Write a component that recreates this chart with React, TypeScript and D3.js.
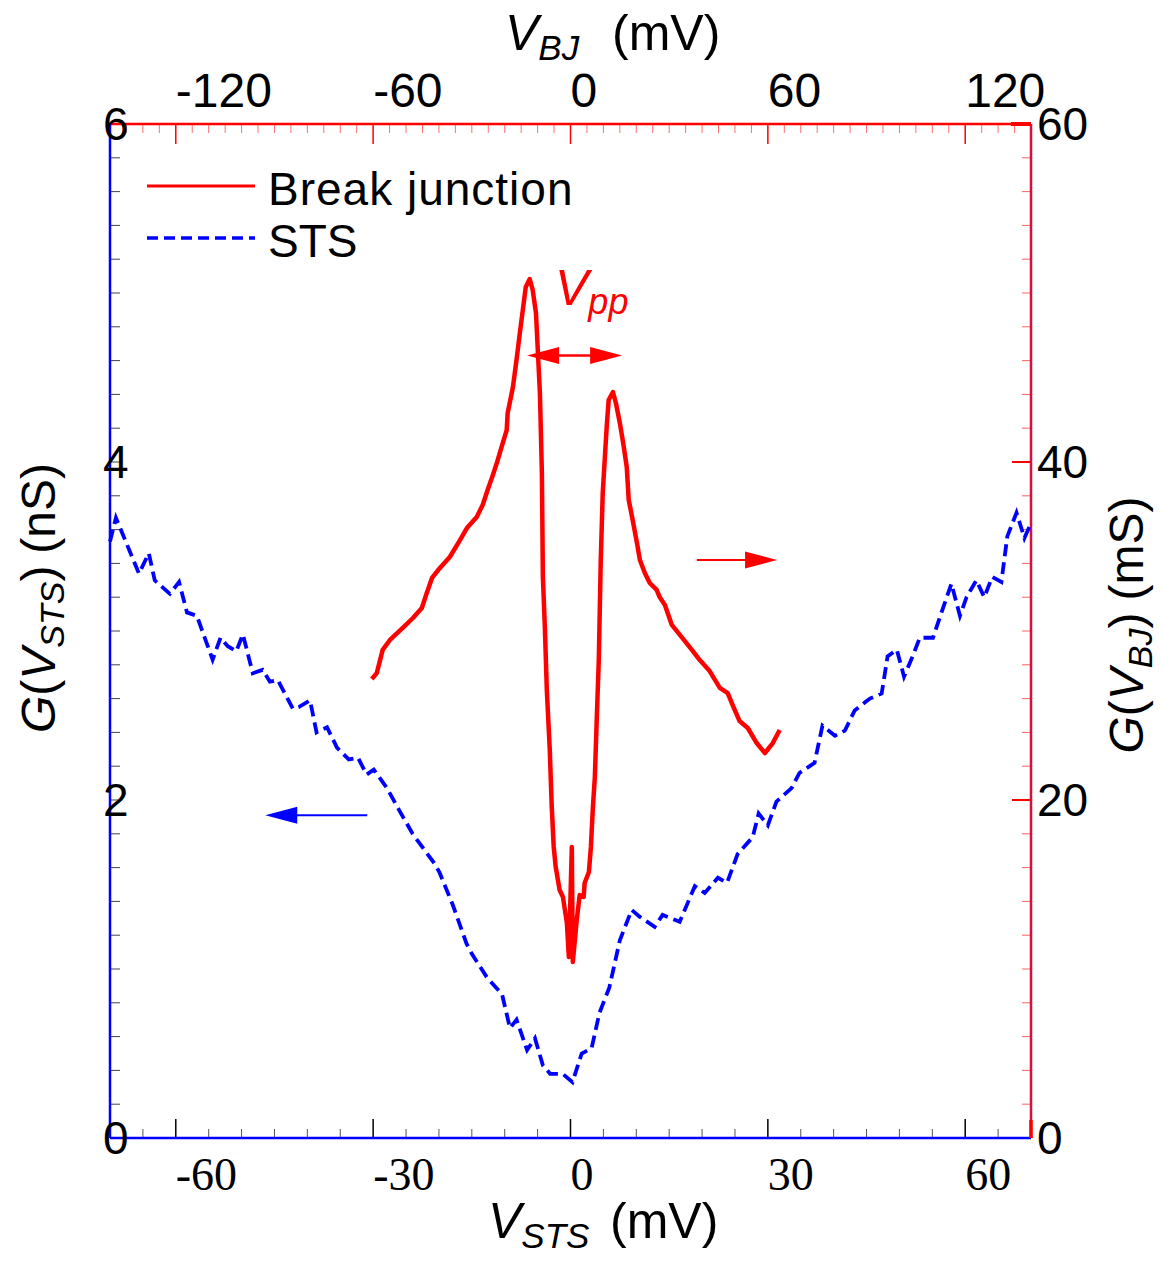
import React from "react";
import * as d3 from "d3";

// STS conductance vs bias (bottom / left axes)
const stsVoltage = [
  -70.0, -69.1, -65.6, -64.1, -63.2, -60.9, -59.5, -58.3, -56.8, -54.4, -53.2, -52.1, -50.8, -49.8,
  -48.3, -46.8, -45.7, -44.5, -42.2, -41.3, -39.6, -38.6, -37.0, -35.5, -33.7, -32.3, -31.0, -29.9,
  -27.9, -25.9, -24.0, -20.6, -19.9, -17.9, -15.8, -15.0, -12.7, -10.4, -9.2, -8.2, -6.6, -5.4, -4.2,
  -3.1, -1.2, 0.3, 1.7, 3.2, 4.4, 5.9, 7.5, 9.3, 10.5, 12.8, 14.0, 16.6, 18.9, 20.4, 22.4, 23.8, 25.4,
  27.7, 28.6, 30.0, 31.3, 33.6, 34.8, 37.1, 38.3, 40.2, 41.7, 43.2, 45.5, 47.3, 48.2, 49.6, 50.7, 52.0,
  53.1, 55.1, 56.4, 57.9, 59.2, 60.2, 61.7, 62.9, 64.1, 65.5, 66.4, 67.8, 69.0, 69.8,
];
const stsConductance = [
  3.53, 3.67, 3.34, 3.46, 3.3, 3.22, 3.29, 3.11, 3.09, 2.83, 2.96, 2.91, 2.88, 2.98,
  2.75, 2.77, 2.7, 2.71, 2.54, 2.55, 2.59, 2.4, 2.43, 2.31, 2.24, 2.25, 2.15, 2.18,
  2.07, 1.93, 1.8, 1.62, 1.57, 1.38, 1.15, 1.09, 0.95, 0.85, 0.65, 0.7, 0.52, 0.59, 0.43,
  0.38, 0.38, 0.33, 0.5, 0.53, 0.74, 0.89, 1.17, 1.35, 1.31, 1.25, 1.32, 1.28, 1.49, 1.45, 1.54, 1.51, 1.68,
  1.78, 1.92, 1.85, 1.99, 2.07, 2.16, 2.22, 2.44, 2.38, 2.41, 2.53, 2.6, 2.63, 2.85, 2.89, 2.73, 2.85,
  2.96, 2.96, 3.11, 3.28, 3.09, 3.2, 3.3, 3.2, 3.32, 3.29, 3.56, 3.7, 3.55, 3.62,
];

// break junction conductance vs bias (top / right axes)
const bjVoltage = [
  -60.4, -58.9, -57.1, -54.9, -51.0, -47.9, -45.2, -43.7, -42.1, -39.7, -36.7, -33.6, -31.5, -28.5,
  -26.7, -25.2, -23.6, -22.4, -20.6, -19.4, -19.1, -17.5, -16.3, -15.4, -14.5, -13.6, -12.4, -11.5,
  -10.5, -9.9, -9.3, -8.7, -8.4, -7.8, -7.2, -6.3, -5.7, -5.1, -4.5, -3.3, -2.3, -1.1, -0.5, 0.4, 0.7,
  1.9, 2.8, 4.0, 4.3, 5.6, 6.2, 6.8, 7.4, 8.0, 8.6, 9.2, 9.8, 10.4, 11.0, 11.6, 12.9, 13.8, 15.0, 16.2,
  17.1, 17.7, 18.9, 20.2, 21.1, 22.6, 24.1, 26.2, 27.1, 28.7, 30.8, 33.8, 36.9, 39.3, 42.3, 45.4, 47.8,
  49.3, 51.4, 53.9, 56.6, 59.1, 61.5, 63.6,
];
const bjConductance = [
  27.16, 27.51, 28.88, 29.47, 30.18, 30.77, 31.36, 32.25, 33.14, 33.73, 34.38, 35.38, 36.09, 36.75,
  37.46, 38.34, 39.23, 39.94, 41.12, 41.89, 42.9, 44.44, 46.21, 47.63, 48.99, 50.36, 50.83, 50.18,
  48.82, 46.45, 44.08, 39.35, 33.2, 30.24, 26.51, 22.96, 19.59, 17.22, 16.04, 14.67, 14.26, 12.72, 10.71, 17.22, 10.41,
  12.9, 14.38, 14.26, 15.09, 15.74, 17.22, 19.53, 21.36, 24.91, 28.28, 34.2, 38.17, 40.12, 42.07, 43.67, 44.14, 43.49, 42.31, 40.89,
  39.7, 37.75, 36.57, 35.21, 34.2, 33.43, 32.84, 32.43, 32.01, 31.54, 30.36, 29.64, 28.88, 28.28, 27.63, 26.63, 26.33,
  25.62, 24.67, 24.26, 23.37, 22.78, 23.37, 24.14,
];

const stsTickLabels = [-60, -30, 0, 30, 60];
const bjTickLabels = [-120, -60, 0, 60, 120];
const leftTickLabels = [0, 2, 4, 6];
const rightTickLabels = [0, 20, 40, 60];

const W = 1163;
const H = 1261;
const plot = { left: 110, right: 1031, top: 124, bottom: 1138 };
const sans = "'Liberation Sans', Arial, sans-serif";
const serif = "'Liberation Serif', 'Times New Roman', serif";
const RED = "#ff0000";
const BLUE = "#0000ff";
const CRIMSON = "#dc0c3c";

function arrowHead(tx, ty, dir, color) {
  // dir = 1 points right, -1 points left
  const len = 32;
  const hw = 8.5;
  const d = `M${tx},${ty}L${tx - dir * len},${ty - hw}L${tx - dir * len},${ty + hw}Z`;
  return <path d={d} fill={color} />;
}

export default function App() {
  const x = d3.scaleLinear().domain([-70, 70]).range([plot.left, plot.right]);
  const xBJ = d3.scaleLinear().domain([-140, 140]).range([plot.left, plot.right]);
  const yL = d3.scaleLinear().domain([0, 6]).range([plot.bottom, plot.top]);
  const yR = d3.scaleLinear().domain([0, 60]).range([plot.bottom, plot.top]);

  const stsLine = d3
    .line()
    .x((d) => x(d[0]))
    .y((d) => yL(d[1]));
  const bjLine = d3
    .line()
    .x((d) => xBJ(d[0]))
    .y((d) => yR(d[1]));

  const stsData = stsVoltage.map((v, i) => [v, stsConductance[i]]);
  const bjData = bjVoltage.map((v, i) => [v, bjConductance[i]]);

  const bottomMinor = d3.range(-65, 70, 5).filter((v) => v % 30 !== 0);
  const topMinor = d3.range(-135, 140, 5).filter((v) => v % 60 !== 0);
  const leftMinor = d3.range(0.2, 6, 0.2);
  const rightMinor = d3.range(2, 60, 2).filter((v) => v % 20 !== 0);

  // annotation arrows in data coordinates
  const vppY = yR(46.3);
  const vppL = xBJ(-13.2);
  const vppR = xBJ(15.7);
  const redY = yR(34.2);
  const redA = xBJ(38.4);
  const redB = xBJ(62.8);
  const blueY = yL(1.91);
  const blueA = x(-30.9);
  const blueB = x(-46.4);

  return (
    <svg
      width={W}
      height={H}
      style={{ position: "absolute", left: 0, top: 0, background: "#fff" }}
    >
      {/* bottom ticks */}
      {bottomMinor.map((v) => (
        <line key={"bm" + v} x1={x(v)} x2={x(v)} y1={plot.bottom} y2={plot.bottom - 9} stroke="#555" strokeWidth={1} />
      ))}
      {stsTickLabels.map((v) => (
        <line key={"bM" + v} x1={x(v)} x2={x(v)} y1={plot.bottom} y2={plot.bottom - 19} stroke="#000" strokeWidth={1.5} />
      ))}
      {/* top ticks */}
      {topMinor.map((v) => (
        <line key={"tm" + v} x1={xBJ(v)} x2={xBJ(v)} y1={plot.top} y2={plot.top + 9} stroke="#ff7070" strokeWidth={1} />
      ))}
      {bjTickLabels.map((v) => (
        <line key={"tM" + v} x1={xBJ(v)} x2={xBJ(v)} y1={plot.top} y2={plot.top + 20} stroke={RED} strokeWidth={1.5} />
      ))}
      {/* left ticks */}
      {leftMinor.map((v, i) => (
        <line key={"lm" + i} x1={plot.left} x2={plot.left + 10} y1={yL(v)} y2={yL(v)} stroke="#444" strokeWidth={1} />
      ))}
      {/* right ticks */}
      {rightMinor.map((v) => (
        <line key={"rm" + v} x1={plot.right} x2={plot.right - 9} y1={yR(v)} y2={yR(v)} stroke="#ff6060" strokeWidth={1} />
      ))}
      {[20, 40].map((v) => (
        <line key={"rM" + v} x1={plot.right} x2={plot.right - 19} y1={yR(v)} y2={yR(v)} stroke={RED} strokeWidth={2} />
      ))}

      {/* axis lines */}
      <line x1={plot.left} x2={plot.right} y1={plot.top} y2={plot.top} stroke={RED} strokeWidth={2.5} />
      <line x1={plot.right} x2={plot.right} y1={plot.top} y2={plot.bottom} stroke={CRIMSON} strokeWidth={2.5} />
      <line x1={plot.left} x2={plot.left} y1={plot.top} y2={plot.bottom} stroke={BLUE} strokeWidth={2.5} />
      <line x1={plot.left} x2={plot.right} y1={plot.bottom} y2={plot.bottom} stroke={BLUE} strokeWidth={2.5} />
      <line x1={plot.right - 20} x2={plot.right} y1={plot.top} y2={plot.top} stroke={RED} strokeWidth={4} />
      <line x1={plot.right} x2={plot.right} y1={plot.bottom - 18} y2={plot.bottom} stroke={RED} strokeWidth={3.5} />

      {/* curves */}
      <path d={stsLine(stsData)} fill="none" stroke={BLUE} strokeWidth={3.8} strokeDasharray="12,6" />
      <path d={bjLine(bjData)} fill="none" stroke={RED} strokeWidth={4.5} strokeLinejoin="round" />

      {/* tick labels */}
      {stsTickLabels.map((v) => (
        <text key={"bl" + v} x={x(v)} y={1190} fontFamily={serif} fontSize={46} fill="#000">
          {v}
        </text>
      ))}
      {bjTickLabels.map((v) => (
        <text key={"tl" + v} x={xBJ(v)} y={107} fontFamily={sans} fontSize={48} fill="#000">
          {v}
        </text>
      ))}
      {leftTickLabels.map((v) => (
        <text key={"ll" + v} x={103} y={yL(v) + 16} fontFamily={sans} fontSize={46} fill="#000">
          {v}
        </text>
      ))}
      {rightTickLabels.map((v) => (
        <text key={"rl" + v} x={1037} y={yR(v) + 16} fontFamily={sans} fontSize={46} fill="#000">
          {v}
        </text>
      ))}

      {/* axis titles */}
      <text x={488} y={1238} fontFamily={sans} fontSize={50} fill="#000">
        <tspan fontStyle="italic">V</tspan>
        <tspan fontStyle="italic" fontSize={35} dy={10}>STS</tspan>
        <tspan x={610} dy={-10}>(mV)</tspan>
      </text>
      <text x={505} y={50} fontFamily={sans} fontSize={50} fill="#000">
        <tspan fontStyle="italic">V</tspan>
        <tspan fontStyle="italic" fontSize={35} dy={10}>BJ</tspan>
        <tspan x={612} dy={-10}>(mV)</tspan>
      </text>
      <text
        transform="translate(55,598) rotate(-90)"
        textAnchor="middle"
        fontFamily={sans}
        fontSize={48}
        fill="#000"
      >
        <tspan fontStyle="italic">G</tspan>
        <tspan>(</tspan>
        <tspan fontStyle="italic">V</tspan>
        <tspan fontStyle="italic" fontSize={34} dy={9}>STS</tspan>
        <tspan dy={-9}>)</tspan>
        <tspan dx={12}>(nS)</tspan>
      </text>
      <text
        transform="translate(1143,625) rotate(-90)"
        textAnchor="middle"
        fontFamily={sans}
        fontSize={48}
        fill="#000"
      >
        <tspan fontStyle="italic">G</tspan>
        <tspan>(</tspan>
        <tspan fontStyle="italic">V</tspan>
        <tspan fontStyle="italic" fontSize={34} dy={9}>BJ</tspan>
        <tspan dy={-9}>)</tspan>
        <tspan dx={12}>(mS)</tspan>
      </text>

      {/* legend */}
      <line x1={147} x2={255} y1={186} y2={186} stroke={RED} strokeWidth={3} />
      <text x={268} y={205} fontFamily={sans} fontSize={46} letterSpacing={1} fill="#000">
        Break junction
      </text>
      <line x1={147} x2={255} y1={238} y2={238} stroke={BLUE} strokeWidth={3.5} strokeDasharray="11,6" />
      <text x={268} y={257} fontFamily={sans} fontSize={46} fill="#000">
        STS
      </text>

      {/* V_pp annotation */}
      <text x={555} y={305} fontFamily={sans} fontSize={50} fill={RED} fontStyle="italic">
        V
        <tspan fontSize={36} dy={9}>pp</tspan>
      </text>
      <line x1={vppL + 20} x2={vppR - 20} y1={vppY} y2={vppY} stroke={RED} strokeWidth={2.5} />
      {arrowHead(vppL, vppY, -1, RED)}
      {arrowHead(vppR, vppY, 1, RED)}

      {/* axis pointer arrows */}
      <line x1={redA} x2={redB - 20} y1={redY} y2={redY} stroke={RED} strokeWidth={2} />
      {arrowHead(redB, redY, 1, RED)}
      <line x1={blueA} x2={blueB + 20} y1={blueY} y2={blueY} stroke={BLUE} strokeWidth={2} />
      {arrowHead(blueB, blueY, -1, BLUE)}
    </svg>
  );
}
